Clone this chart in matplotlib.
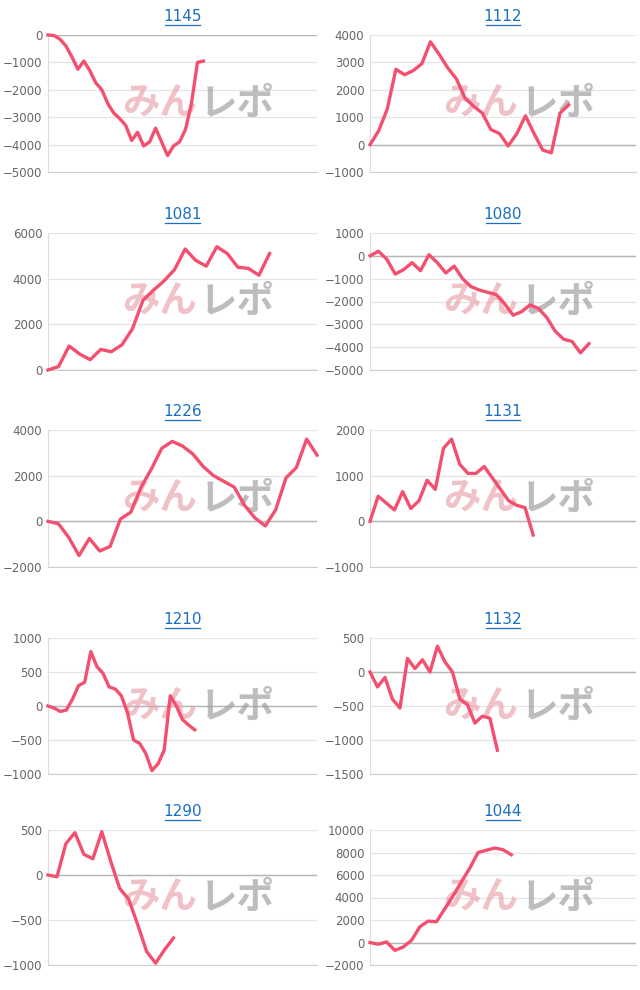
import matplotlib
matplotlib.use("Agg")
import matplotlib.pyplot as plt
from matplotlib.ticker import MultipleLocator

titles = ["1145", "1112", "1081", "1080", "1226", "1131", "1210", "1132", "1290", "1044"]
series = [
    [0, -20, -150, -400, -800, -1250, -950, -1300, -1750, -2000, -2500, -2850, -3050, -3300,
     -3850, -3550, -4050, -3900, -3400, -3900, -4400, -4050, -3900, -3450, -2500, -1000, -950],
    [0, 500, 1300, 2750, 2550, 2700, 2950, 3750, 3300, 2800, 2400, 1700, 1400, 1150, 550, 400,
     -50, 400, 1050, 400, -200, -300, 1150, 1450],
    [0, 150, 1050, 700, 450, 900, 800, 1100, 1800, 3050, 3500, 3900, 4400, 5300, 4800, 4550,
     5400, 5100, 4500, 4450, 4150, 5100],
    [0, 200, -150, -800, -600, -300, -650, 50, -300, -750, -450, -1000, -1350, -1500, -1600,
     -1700, -2100, -2600, -2450, -2150, -2300, -2700, -3300, -3650, -3750, -4250, -3850],
    [0, -100, -700, -1500, -750, -1300, -1100, 100, 400, 1500, 2300, 3200, 3500, 3300, 2950,
     2400, 2000, 1750, 1500, 700, 150, -200, 500, 1900, 2350, 3600, 2900],
    [0, 550, 400, 250, 650, 280, 450, 900, 700, 1600, 1800, 1250, 1050, 1050, 1200, 950, 700,
     450, 350, 300, -300],
    [0, -30, -80, -60, 100, 300, 350, 800, 580, 480, 280, 250, 150, -100, -500, -550, -700,
     -950, -850, -650, 150, 0, -200, -280, -350],
    [0, -220, -80, -400, -530, 200, 50, 180, 0, 380, 150, 0, -400, -480, -750, -650, -680, -1150],
    [0, -20, 350, 470, 230, 180, 480, 150, -150, -270, -550, -850, -980, -830, -700],
    [0, -150, 50, -700, -400, 200, 1400, 1900, 1850, 3000, 4150, 5400, 6600, 8000, 8200, 8400,
     8250, 7800],
]
x_max = [45, 30.8, 25.5, 31.6, 26, 32.6, 44, 35.5, 30, 32]
y_lims = [(-5000, 0), (-1000, 4000), (0, 6000), (-5000, 1000), (-2000, 4000),
          (-1000, 2000), (-1000, 1000), (-1500, 500), (-1000, 500), (-2000, 10000)]
y_steps = [1000, 1000, 2000, 1000, 2000, 1000, 500, 500, 500, 2000]

fig = plt.figure(figsize=(6.4, 9.9), dpi=100)
W, H = 640, 990
cols = [(48, 317), (370, 636)]
rows = [(35, 172), (233, 370), (430, 567), (638, 774), (830, 965)]

for i in range(10):
    r, c = divmod(i, 2)
    x0, x1 = cols[c]
    yt, yb = rows[r]
    ax = fig.add_axes([x0 / W, 1 - yb / H, (x1 - x0) / W, (yb - yt) / H])
    ys = series[i]
    ax.set_xlim(0, x_max[i])
    ax.set_ylim(*y_lims[i])
    ax.yaxis.set_major_locator(MultipleLocator(y_steps[i]))
    ax.grid(axis="y", color="#e4e4e4", lw=0.9)
    ax.axhline(0, color="#b5b5b5", lw=1.0, zorder=1)
    for s in ["top", "right"]:
        ax.spines[s].set_visible(False)
    ax.spines["left"].set_color("#dddddd")
    ax.spines["bottom"].set_color("#cfcfcf")
    ax.set_xticks([])
    ax.tick_params(axis="y", length=0, labelsize=8.5, labelcolor="#666666", pad=4)
    ax.set_axisbelow(True)
    ax.text(0.555, 0.5, "みん", transform=ax.transAxes, fontsize=27, fontweight="bold",
            family=["Noto Sans CJK JP"], color="#e8a0a8", alpha=0.65, ha="right", va="center",
            zorder=2)
    ax.text(0.565, 0.5, "レポ", transform=ax.transAxes, fontsize=27, fontweight="bold",
            family=["Noto Sans CJK JP"], color="#9a9a9a", alpha=0.65, ha="left", va="center",
            zorder=2)
    ax.plot(range(len(ys)), ys, color="#f2506e", lw=2.4, zorder=3, clip_on=False,
            solid_joinstyle="round")
    ax.set_title(titles[i], fontsize=11, color="#1a6fc4", pad=10)
    ax.plot([0.5 - 0.065, 0.5 + 0.065], [1.075, 1.075], transform=ax.transAxes,
            color="#1a6fc4", lw=0.9, clip_on=False)

fig.savefig("out.png", dpi=100)
